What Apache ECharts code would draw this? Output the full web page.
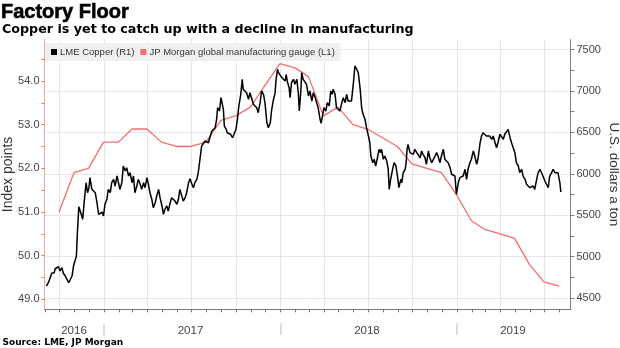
<!DOCTYPE html>
<html><head><meta charset="utf-8">
<script src="https://cdn.jsdelivr.net/npm/echarts@6/dist/echarts.min.js"></script>
<style>html,body{margin:0;padding:0;background:#fff}#c{width:620px;height:348px}</style>
</head><body><div id="c"></div>
<script>
// ---- data ----
const copperDates = [
'2016-09-04','2016-09-08','2016-09-12','2016-09-15','2016-09-20','2016-09-22','2016-09-26','2016-09-29','2016-10-02','2016-10-06',
'2016-10-09','2016-10-13','2016-10-20','2016-10-23','2016-10-27','2016-10-30','2016-11-05','2016-11-07','2016-11-10','2016-11-14',
'2016-11-18','2016-11-21','2016-11-25','2016-11-28','2016-12-01','2016-12-03','2016-12-07','2016-12-10','2016-12-14','2016-12-17',
'2016-12-21','2016-12-24','2016-12-28','2016-12-31','2017-01-03','2017-01-07','2017-01-10','2017-01-14','2017-01-17','2017-01-21',
'2017-01-24','2017-01-28','2017-01-31','2017-02-03','2017-02-07','2017-02-10','2017-02-14','2017-02-17','2017-02-21','2017-02-24',
'2017-02-28','2017-03-03','2017-03-06','2017-03-10','2017-03-13','2017-03-17','2017-03-20','2017-03-24','2017-03-27','2017-03-31',
'2017-04-03','2017-04-06','2017-04-10','2017-04-13','2017-04-17','2017-04-20','2017-04-24','2017-04-27','2017-05-01','2017-05-04',
'2017-05-07','2017-05-11','2017-05-14','2017-05-18','2017-05-21','2017-05-25','2017-05-28','2017-06-01','2017-06-04','2017-06-07',
'2017-06-11','2017-06-14','2017-06-18','2017-06-21','2017-06-25','2017-06-28','2017-07-02','2017-07-05','2017-07-08','2017-07-12',
'2017-07-15','2017-07-19','2017-07-22','2017-07-26','2017-07-29','2017-08-02','2017-08-05','2017-08-09','2017-08-12','2017-08-15',
'2017-08-19','2017-08-22','2017-08-24','2017-08-28','2017-08-31','2017-09-03','2017-09-05','2017-09-07','2017-09-11','2017-09-13',
'2017-09-17','2017-09-20','2017-09-24','2017-09-27','2017-10-01','2017-10-04','2017-10-07','2017-10-11','2017-10-14','2017-10-16',
'2017-10-20','2017-10-23','2017-10-27','2017-10-30','2017-11-03','2017-11-06','2017-11-09','2017-11-13','2017-11-16','2017-11-20',
'2017-11-23','2017-11-27','2017-11-30','2017-12-04','2017-12-07','2017-12-11','2017-12-14','2017-12-17','2017-12-21','2017-12-23',
'2017-12-26','2017-12-28','2017-12-31','2018-01-04','2018-01-07','2018-01-11','2018-01-13','2018-01-15','2018-01-19','2018-01-21',
'2018-01-24','2018-01-28','2018-01-31','2018-02-04','2018-02-07','2018-02-09','2018-02-12','2018-02-14','2018-02-17','2018-02-21',
'2018-02-24','2018-02-28','2018-03-03','2018-03-07','2018-03-10','2018-03-14','2018-03-17','2018-03-20','2018-03-24','2018-03-26',
'2018-03-29','2018-04-01','2018-04-05','2018-04-08','2018-04-12','2018-04-15','2018-04-18','2018-04-20','2018-04-24','2018-04-27',
'2018-05-01','2018-05-04','2018-05-08','2018-05-11','2018-05-15','2018-05-18','2018-05-21','2018-05-25','2018-05-28','2018-06-01',
'2018-06-04','2018-06-08','2018-06-11','2018-06-15','2018-06-18','2018-06-21','2018-06-25','2018-06-28','2018-07-02','2018-07-05',
'2018-07-07','2018-07-11','2018-07-14','2018-07-17','2018-07-20','2018-07-24','2018-07-27','2018-07-29','2018-08-02','2018-08-05',
'2018-08-09','2018-08-12','2018-08-14','2018-08-17','2018-08-21','2018-08-24','2018-08-28','2018-09-01','2018-09-03','2018-09-07',
'2018-09-09','2018-09-12','2018-09-16','2018-09-18','2018-09-20','2018-09-22','2018-09-26','2018-09-29','2018-10-03','2018-10-06',
'2018-10-10','2018-10-13','2018-10-17','2018-10-20','2018-10-23','2018-10-27','2018-10-30','2018-11-03','2018-11-06','2018-11-10',
'2018-11-13','2018-11-17','2018-11-20','2018-11-23','2018-11-27','2018-11-30','2018-12-04','2018-12-07','2018-12-11','2018-12-14',
'2018-12-18','2018-12-21','2018-12-24','2018-12-28','2018-12-31','2019-01-04','2019-01-07','2019-01-11','2019-01-14','2019-01-18',
'2019-01-21','2019-01-24','2019-01-28','2019-01-31','2019-02-04','2019-02-07','2019-02-11','2019-02-14','2019-02-18','2019-02-21',
'2019-02-24','2019-02-28','2019-03-03','2019-03-07','2019-03-10','2019-03-14','2019-03-17','2019-03-21','2019-03-24','2019-03-27',
'2019-03-31','2019-04-03','2019-04-07','2019-04-10','2019-04-14','2019-04-17','2019-04-21','2019-04-24','2019-04-27','2019-05-01',
'2019-05-04','2019-05-08','2019-05-11','2019-05-15','2019-05-18','2019-05-22','2019-05-25','2019-05-28','2019-06-01','2019-06-04',
'2019-06-08','2019-06-11','2019-06-15','2019-06-18','2019-06-22','2019-06-25','2019-06-28','2019-07-02','2019-07-05','2019-07-09',
'2019-07-12','2019-07-16','2019-07-19','2019-07-23','2019-07-26','2019-07-29','2019-08-02','2019-08-04'
];
const copperValues = [
4644,4684,4665,4798,4805,4853,4838,4877,4826,4865,
4798,4765,4684,4665,4765,4886,5007,5288,5602,5530,
5450,5651,5892,5771,5832,5953,5812,5832,5771,5671,
5510,5490,5538,5490,5631,5692,5812,5771,5892,5933,
5852,5973,5892,5812,5892,6094,6034,6073,5973,6013,
5892,5973,5771,5852,5933,5873,5812,5892,5832,5953,
5873,5771,5692,5590,5651,5731,5812,5711,5611,5510,
5571,5611,5550,5651,5711,5692,5671,5631,5692,5812,
5731,5671,5711,5771,5892,5940,5873,5832,5892,5933,
6013,5994,6335,6356,6396,6416,6375,6456,6517,6496,
6557,6658,6798,6758,6919,6900,6779,6577,6537,6496,
6517,6477,6436,6477,6537,6658,6819,6960,7141,7020,
7020,6979,6900,6979,6960,6839,6859,6798,6738,6859,
7000,6960,6859,6617,6557,6617,6779,6879,6979,7141,
7262,7221,7202,7161,7181,7121,7202,7121,7040,6919,
7100,7141,7081,7141,6979,6758,6979,7221,7141,7161,
7081,6940,7000,6879,6979,6919,6859,6798,6658,6610,
6698,6798,6758,6859,6819,7000,6960,7020,6960,6798,
6819,6758,6859,6919,6859,6960,6879,6859,6879,7100,
7302,7262,7221,7020,6798,6718,6658,6557,6456,6375,
6215,6134,6175,6094,6175,6296,6255,6296,6175,6215,
6154,6054,5812,5933,6054,6134,6094,5933,5832,5933,
5892,6013,6054,6134,6296,6356,6255,6275,6235,6296,
6255,6275,6194,6275,6235,6194,6114,6275,6194,6134,
6114,6215,6255,6215,6134,6215,6296,6175,6154,6134,
6073,5994,6013,5973,5752,5892,5953,5933,5973,6054,
5933,6054,6134,6175,6275,6215,6114,6194,6375,6456,
6496,6477,6456,6436,6456,6416,6456,6375,6315,6375,
6477,6456,6416,6477,6456,6537,6436,6375,6375,6255,
6134,6094,6013,6054,5973,5933,5873,5892,5832,5812,
5852,5812,5933,6013,6054,6013,5973,5913,5892,5832,
5973,6013,6054,6013,6034,6013,5892,5780
];
const pmiDates = [
'2016-09-30','2016-10-31','2016-11-30','2016-12-31','2017-01-31','2017-02-28','2017-03-31','2017-04-30','2017-05-31','2017-06-30',
'2017-07-31','2017-08-31','2017-09-30','2017-10-31','2017-11-30','2017-12-31','2018-01-31','2018-02-28','2018-03-31','2018-04-30',
'2018-05-31','2018-06-30','2018-07-31','2018-08-31','2018-09-30','2018-10-31','2018-11-30','2018-12-31','2019-01-31','2019-02-28',
'2019-03-31','2019-04-30','2019-05-31','2019-06-30','2019-07-31'
];
const pmiValues = [
51.0,51.9,52.0,52.6,52.6,52.9,52.9,52.6,52.5,52.5,
52.6,53.1,53.2,53.4,53.9,54.4,54.3,54.1,53.2,53.4,
53.0,52.9,52.7,52.5,52.1,52.0,51.9,51.4,50.8,50.6,
50.5,50.4,49.8,49.4,49.3
];
const leftTicks = [49, 50, 51, 52, 53, 54];
const rightTicks = [4500, 5000, 5500, 6000, 6500, 7000, 7500];
const yearLabels = ['2016', '2017', '2018', '2019'];
const seriesNames = ['LME Copper (R1)', 'JP Morgan global manufacturing gauge (L1)'];

// ---- axis helpers (dates as UTC timestamps on value axes) ----
const T = s => Date.parse(s);
const X_MIN = T('2016-08-31'), X_MAX = T('2019-08-24');
const monthTicks = [];
for (let y = 2016; y <= 2019; y++) for (let m = 1; m <= 12; m++) {
  const s = y + '-' + String(m).padStart(2, '0') + '-01';
  if (s >= '2016-09-01' && s <= '2019-08-01') monthTicks.push(s);
}
const quarterTicks = monthTicks.filter(s => ['01','04','07','10'].includes(s.slice(5, 7))).map(T);
const yearStarts = monthTicks.filter(s => s.slice(5, 7) === '01').map(T);
const monthTickTs = monthTicks.map(T);
const yearAnchors = ['2016-10-31', '2017-06-29', '2018-06-29', '2019-04-27'].map(T);
const leftMinor = [];
leftTicks.forEach(v => { leftMinor.push(v); if (v + 0.5 < 54.95) leftMinor.push(v + 0.5); });
const rightMinor = [];
rightTicks.forEach(v => { rightMinor.push(v); if (v + 250 < 7600) rightMinor.push(v + 250); });

const FONT = 'Liberation Sans';
const chart = echarts.init(document.getElementById('c'), null, { renderer: 'canvas' });
const hidden = { show: false };
const xBase = { type: 'value', min: X_MIN, max: X_MAX, gridIndex: 0, position: 'bottom' };

chart.setOption({
  animation: false,
  backgroundColor: '#fff',
  title: [
    { text: 'Factory Floor', left: 1, top: 2, padding: 0,
      textStyle: { fontFamily: FONT, fontWeight: 'bold', fontSize: 20, color: '#000',
        textBorderColor: '#000', textBorderWidth: 0.6 } },
    { text: 'Copper is yet to catch up with a decline in manufacturing', left: 2, top: 23.5, padding: 0,
      textStyle: { fontFamily: 'DejaVu Sans', fontWeight: 'bold', fontSize: 12.7, color: '#000' } },
    { text: 'Source: LME, JP Morgan', left: 2.5, top: 338, padding: 0,
      textStyle: { fontFamily: 'DejaVu Sans', fontWeight: 'bold', fontSize: 9, color: '#000' } }
  ],
  legend: {
    left: 45, top: 43, padding: [4, 6, 4, 6], backgroundColor: '#efefef',
    itemWidth: 6, itemHeight: 6, itemGap: 6, icon: 'rect',
    textStyle: { fontFamily: FONT, fontSize: 9.5, color: '#333', padding: [0, 0, 0, -2] },
    data: seriesNames
  },
  grid: { left: 44.5, right: 49.5, top: 39.5, bottom: 38.7, containLabel: false, outerBoundsMode: 'none' },
  xAxis: [
    Object.assign({}, xBase, {
      axisLine: { show: true, onZero: false, lineStyle: { color: '#777', width: 1 } },
      axisTick: { show: true, customValues: monthTickTs, length: 3, lineStyle: { color: '#777' } },
      axisLabel: hidden, splitLine: hidden
    }),
    Object.assign({}, xBase, {
      axisLine: hidden,
      axisTick: { show: false, customValues: quarterTicks },
      axisLabel: hidden,
      splitLine: { show: true, lineStyle: { color: '#e6e6e6', width: 1 } }
    }),
    Object.assign({}, xBase, {
      axisLine: hidden, axisTick: hidden, splitLine: hidden,
      axisLabel: { show: true, customValues: yearAnchors, margin: 16, fontFamily: FONT, fontSize: 11.5, color: '#444',
        formatter: v => yearLabels.find(l => +l === new Date(v).getUTCFullYear()) }
    }),
    Object.assign({}, xBase, {
      offset: 14,
      axisLine: hidden, axisLabel: hidden, splitLine: hidden,
      axisTick: { show: true, customValues: yearStarts, length: 12, lineStyle: { color: '#d2d2d2', width: 1.5 } }
    })
  ],
  yAxis: [
    { type: 'value', position: 'left', min: 48.771, max: 54.95,
      axisLine: { show: true, onZero: false, lineStyle: { color: '#f4a3a3' } },
      axisTick: { show: true, customValues: leftMinor, length: 3, lineStyle: { color: '#e96b6b' } },
      axisLabel: { customValues: leftTicks, formatter: v => Number(v).toFixed(1), margin: 5,
        fontFamily: FONT, fontSize: 11, color: '#444' },
      splitLine: hidden,
      name: 'Index points', nameLocation: 'middle', nameGap: 29, nameMoveOverlap: false,
      nameTextStyle: { fontFamily: FONT, fontSize: 14, color: '#333' } },
    { type: 'value', position: 'right', min: 4363, max: 7622,
      axisLine: { show: true, onZero: false, lineStyle: { color: '#808080' } },
      axisTick: { show: true, customValues: rightMinor, length: 4, lineStyle: { color: '#808080' } },
      axisLabel: { customValues: rightTicks, formatter: v => String(v), margin: 6,
        fontFamily: FONT, fontSize: 11, color: '#444' },
      splitLine: hidden,
      name: 'U.S. dollars a ton', nameLocation: 'middle', nameGap: 36, nameRotate: -90, nameMoveOverlap: false,
      nameTextStyle: { fontFamily: FONT, fontSize: 13.5, color: '#333' } },
    { type: 'value', position: 'right', min: 4363, max: 7622,
      axisLine: hidden, axisLabel: hidden,
      axisTick: { show: false, customValues: rightTicks },
      splitLine: { show: true, lineStyle: { color: '#e6e6e6', width: 1 } } }
  ],
  series: [
    { name: seriesNames[1], type: 'line', xAxisIndex: 0, yAxisIndex: 0, z: 2,
      data: pmiDates.map((d, i) => [T(d), pmiValues[i]]),
      showSymbol: false, symbol: 'none',
      lineStyle: { color: '#f26d6d', width: 1.3 }, itemStyle: { color: '#f26d6d' } },
    { name: seriesNames[0], type: 'line', xAxisIndex: 0, yAxisIndex: 1, z: 3,
      data: copperDates.map((d, i) => [T(d), copperValues[i]]),
      showSymbol: false, symbol: 'none',
      lineStyle: { color: '#000', width: 1.5 }, itemStyle: { color: '#000' } }
  ]
});
</script>
</body></html>
